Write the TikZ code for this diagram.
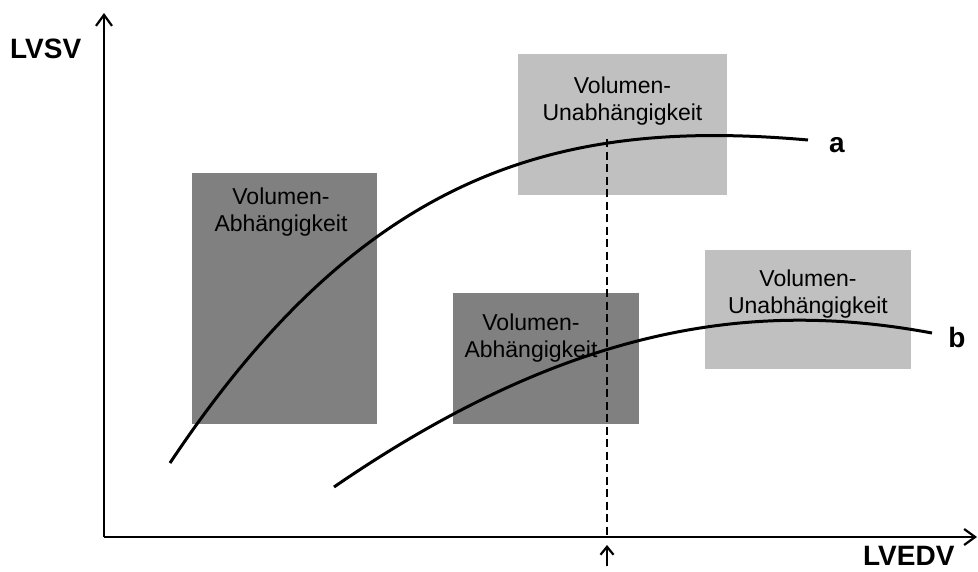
\documentclass[tikz,border=0pt]{standalone}
\usepackage{fontspec}
\setmainfont{Liberation Sans}
\usetikzlibrary{arrows.meta}
\definecolor{darkbox}{HTML}{808080}
\definecolor{lightbox}{HTML}{C0C0C0}
\begin{document}
\begin{tikzpicture}[x=1pt,y=-1pt,
  region/.style={inner sep=0pt, outer sep=0pt, anchor=north west, draw=none},
  depbox/.style={region, fill=darkbox},
  indepbox/.style={region, fill=lightbox},
  boxtext/.style={font=\fontsize{23}{27}\selectfont, align=center, inner sep=0pt, anchor=north},
  boldlabel/.style={font=\fontsize{28}{30}\selectfont\bfseries, inner sep=0pt},
  curve/.style={line width=3pt},
  axisline/.style={line width=2.2pt, -{Straight Barb[length=11pt,width=16pt,line width=2.2pt]}},
  marker/.style={line width=2.2pt, -{Straight Barb[length=8pt,width=13pt,line width=2.2pt]}},
  guide/.style={line width=2.2pt, dash pattern=on 8pt off 4.5pt}
]
\useasboundingbox (0,0) rectangle (978,571);

% shaded regions
\node[depbox, minimum width=185pt, minimum height=251pt] (dep1) at (192,173) {};
\node[indepbox, minimum width=209pt, minimum height=141pt] (indep1) at (518,54) {};
\node[depbox, minimum width=186pt, minimum height=131pt] (dep2) at (453,293) {};
\node[indepbox, minimum width=206pt, minimum height=119pt] (indep2) at (705,250) {};

\node[boxtext] (t1) at (281,188) {Volumen-\\Abhängigkeit};
\node[boxtext] (t2) at (622.5,77) {Volumen-\\Unabhängigkeit};
\node[boxtext] (t3) at (531,313.5) {Volumen-\\Abhängigkeit};
\node[boxtext] (t4) at (808,270) {Volumen-\\Unabhängigkeit};

% axes
\coordinate (O) at (104,537);
\coordinate (ytop) at (104,13);
\coordinate (xend) at (977,537);
\draw[axisline] (O) -- (ytop);
\draw[axisline] (O) -- (xend);
\node[boldlabel, anchor=base west] (lvsv) at (10,58) {LVSV};
\node[boldlabel, anchor=base west] (lvedv) at (863,565) {LVEDV};

% curves
\coordinate (a0) at (170,463);
\coordinate (a1) at (808,140);
\coordinate (b0) at (334,487);
\coordinate (b1) at (932,333);
\draw[curve] (a0) .. controls (365,170) and (560,118) .. (a1);
\draw[curve] (b0) .. controls (580,318) and (765,302) .. (b1);
\node[boldlabel, anchor=base] (la) at (837,152) {a};
\node[boldlabel, anchor=base] (lb) at (957,347) {b};

% reference volume
\coordinate (dtop) at (607,139);
\coordinate (dbot) at (607,537);
\draw[guide] (dtop) -- (dbot);
\coordinate (m0) at (607,566);
\coordinate (m1) at (607,545);
\draw[marker] (m0) -- (m1);
\end{tikzpicture}
\end{document}
